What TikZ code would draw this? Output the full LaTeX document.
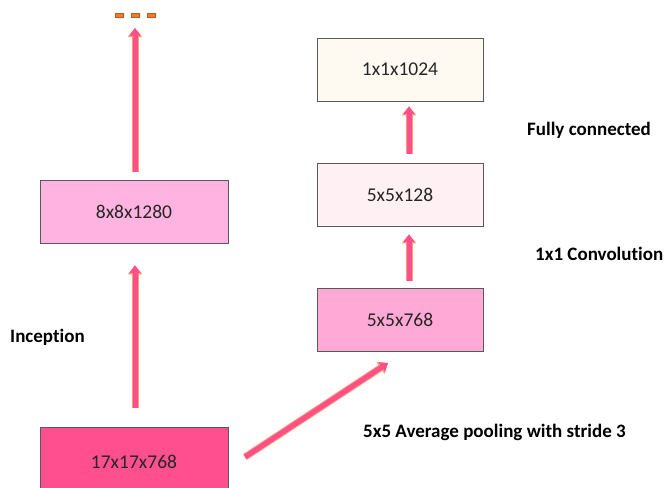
\documentclass[tikz,border=0pt]{standalone}
\usepackage{fontspec}
\setmainfont[Ligatures=NoCommon]{Carlito}
\usetikzlibrary{arrows.meta}
\definecolor{arrpink}{HTML}{FF4F8B}
\definecolor{arredge}{HTML}{F4A070}
\definecolor{dotor}{HTML}{ED7D31}
\definecolor{dotedge}{HTML}{B85A1E}
\definecolor{boxline}{HTML}{595959}
\definecolor{fA}{HTML}{FF4F8F}
\definecolor{fB}{HTML}{FFB3E0}
\definecolor{fC}{HTML}{FFAAD6}
\definecolor{fD}{HTML}{FFF0F3}
\definecolor{fE}{HTML}{FEFAF2}
\tikzset{
  layer/.style={draw=boxline, line width=0.8pt, minimum width=188pt, minimum height=63pt, inner sep=0pt, font=\fontsize{19.5}{22}\selectfont, text=black!85},
  layerR/.style={layer, minimum width=166pt},
  fat/.style={preaction={draw=arredge, line width=7pt, -{Triangle[width=14pt,length=9pt]}},
              draw=arrpink, line width=5pt, -{Triangle[width=11pt,length=7.5pt]}},
  lbl/.style={font=\bfseries\fontsize{19}{22}\selectfont, anchor=west, inner sep=0pt},
  dot/.style={fill=dotor, draw=dotedge, line width=0.4pt, minimum width=8pt, minimum height=4.5pt, inner sep=0pt}
}
\begin{document}
\begin{tikzpicture}[x=1pt,y=-1pt]
\useasboundingbox (0,0) rectangle (665,488);
\node[layer, fill=fA, minimum height=70pt] (b17) at (134,462) {17x17x768};
\node[layer, fill=fB] (b8) at (134,211.5) {8x8x1280};
\node[layerR, fill=fC] (b768) at (400,319.5) {5x5x768};
\node[layerR, fill=fD] (b128) at (400,194.5) {5x5x128};
\node[layerR, fill=fE] (b1024) at (400,69.5) {1x1x1024};
\node[dot] (d1) at (119,15) {};
\node[dot] (d2) at (135,15) {};
\node[dot] (d3) at (151,15) {};
\coordinate (topend) at (135,28);
\coordinate (dstart) at (245,457);
\coordinate (dend) at (388,363);
\draw[fat] ([xshift=1pt,yshift=19pt]b17.north) -- ([xshift=1pt,yshift=-22pt]b8.south);
\draw[fat] ([xshift=1pt,yshift=8pt]b8.north) -- (topend);
\draw[fat] (dstart) -- (dend);
\draw[fat] ([xshift=9pt,yshift=7pt]b768.north) -- ([xshift=9pt,yshift=-8pt]b128.south);
\draw[fat] ([xshift=9pt,yshift=9pt]b128.north) -- ([xshift=9pt,yshift=-5pt]b1024.south);
\node[lbl] (lfc) at (527,130) {Fully connected};
\node[lbl] (lconv) at (535,254) {1x1 Convolution};
\node[lbl] (linc) at (10,337) {Inception};
\node[lbl] (lpool) at (363,432) {5x5 Average pooling with stride 3};
\end{tikzpicture}
\end{document}
